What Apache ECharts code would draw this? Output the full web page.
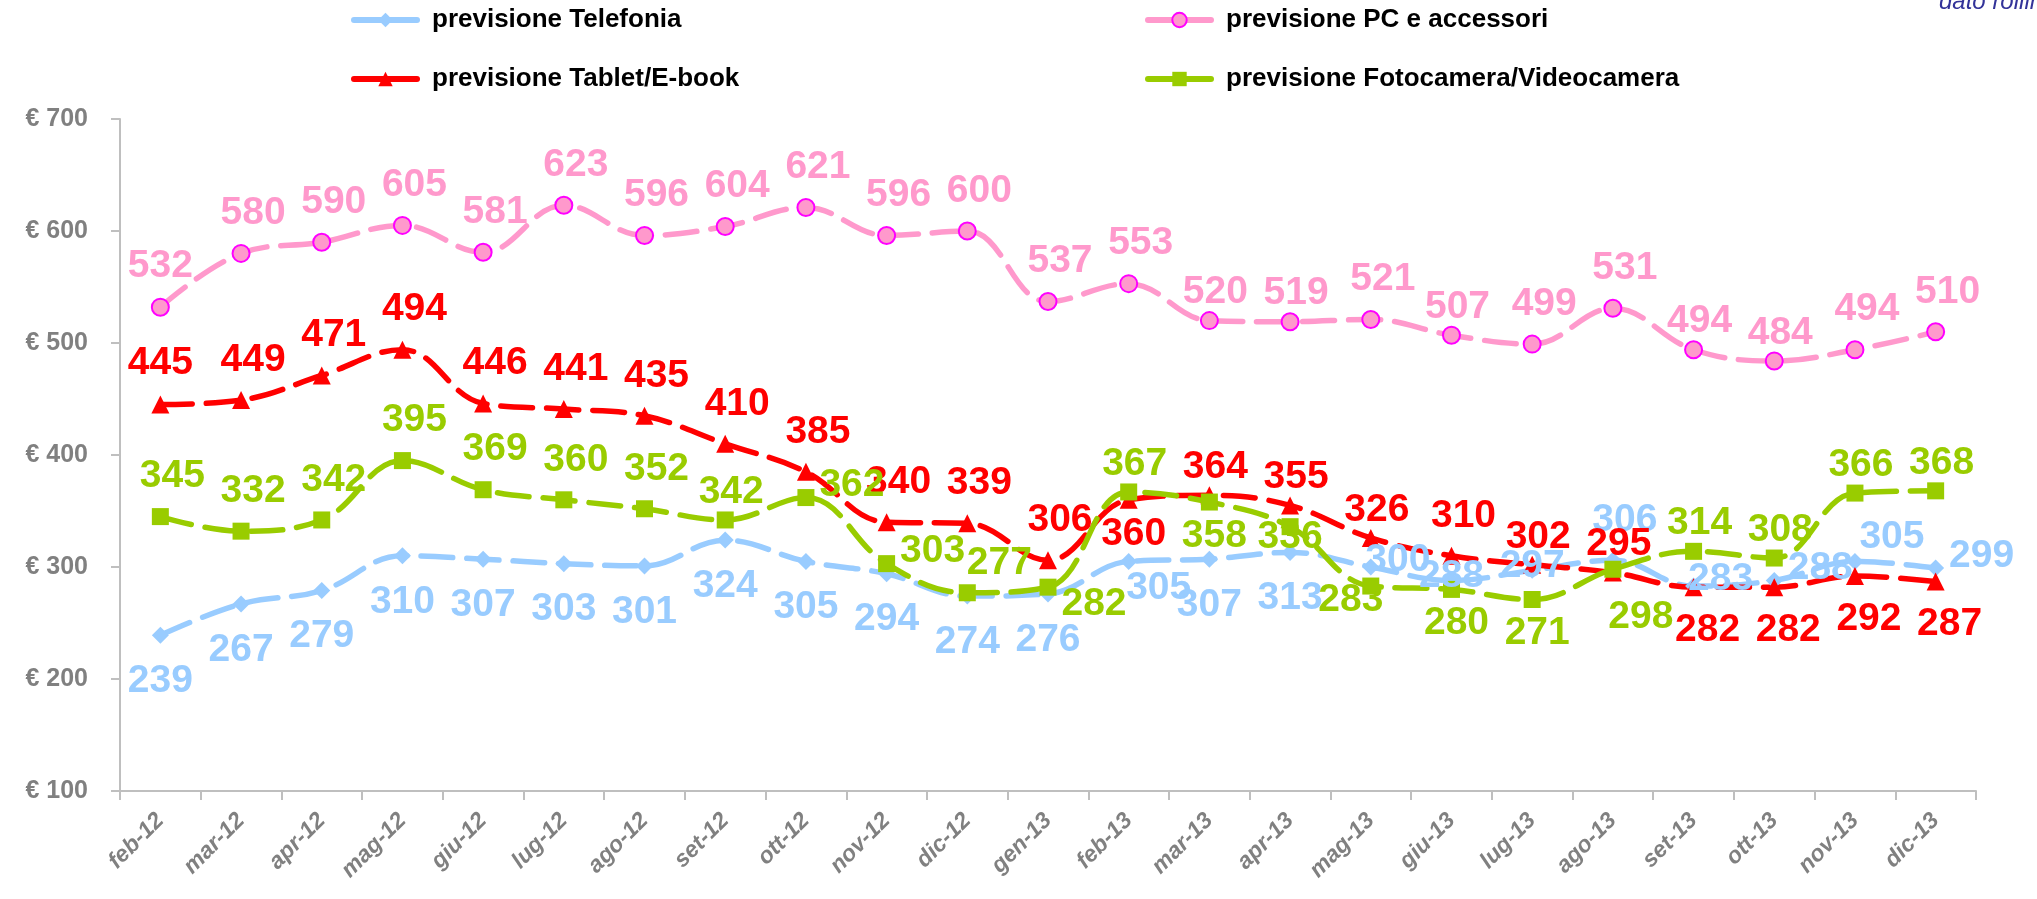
<!DOCTYPE html>
<html>
<head>
<meta charset="utf-8">
<title>previsioni</title>
<script src="https://cdn.jsdelivr.net/npm/echarts@6/dist/echarts.min.js"></script>
<style>
    html, body { margin: 0; padding: 0; background: #fff; }
    #chart { width: 2037px; height: 899px; }
</style>
</head>
<body>
<div id="chart"></div>
<script>
var months = ['feb-12', 'mar-12', 'apr-12', 'mag-12', 'giu-12', 'lug-12', 'ago-12', 'set-12',
    'ott-12', 'nov-12', 'dic-12', 'gen-13', 'feb-13', 'mar-13', 'apr-13', 'mag-13', 'giu-13',
    'lug-13', 'ago-13', 'set-13', 'ott-13', 'nov-13', 'dic-13'];

var telefonia = [239, 267, 279, 310, 307, 303, 301, 324, 305, 294, 274, 276, 305, 307, 313, 300, 288, 297, 306, 283, 288, 305, 299];
var pcAccessori = [532, 580, 590, 605, 581, 623, 596, 604, 621, 596, 600, 537, 553, 520, 519, 521, 507, 499, 531, 494, 484, 494, 510];
var tablet = [445, 449, 471, 494, 446, 441, 435, 410, 385, 340, 339, 306, 360, 364, 355, 326, 310, 302, 295, 282, 282, 292, 287];
var fotocamera = [345, 332, 342, 395, 369, 360, 352, 342, 362, 303, 277, 282, 367, 358, 336, 283, 280, 271, 298, 314, 308, 366, 368];

var yTicks = [100, 200, 300, 400, 500, 600, 700];

// dove sta l'etichetta rispetto al punto (spostamento del centro, px)
var placeStyles = {
    T: [12, -40],
    T0: [0, -41],
    TN: [6, -28],
    B: [0, 46],
    BS: [14, 43],
    BN: [5, 34],
    BR: [30, 27],
    BL: [-20, 14],
    BF: [28, 48],
    R: [46, -12],
    RD: [46, 17],
    RU: [32, -30],
    C: [0, -4],
    CR: [27, -7],
    CB: [0, 11],
    TR: [37, -24]
};

var telefoniaPlaces = ['B', 'B', 'B', 'B', 'B', 'B', 'B', 'B', 'B', 'B', 'B', 'B', 'BR', 'B', 'B', 'CR', 'C', 'C', 'T', 'CR', 'R', 'TR', 'R'];
var pcPlaces = ['T0', 'T', 'T', 'T', 'T', 'T', 'T', 'T', 'T', 'T', 'T', 'T', 'T', 'TN', 'TN', 'T', 'TN', 'T', 'T', 'TN', 'TN', 'T', 'T'];
var tabletPlaces = ['T0', 'T', 'T', 'T', 'T', 'T', 'T', 'T', 'T', 'T', 'T', 'T', 'BN', 'TN', 'TN', 'TN', 'T', 'TN', 'TN', 'BS', 'BS', 'BS', 'BS'];
var fotoPlaces = ['T', 'T', 'T', 'T', 'T', 'T', 'T', 'TN', 'R', 'R', 'RU', 'RD', 'TN', 'BN', 'CB', 'BL', 'BN', 'BN', 'BF', 'TN', 'TN', 'TN', 'TN'];

function buildData(values, places) {
    return values.map(function (v, i) {
        return {
            value: v,
            label: { position: 'inside', offset: placeStyles[places[i]] }
        };
    });
}

function makeSeries(name, values, places, color, symbol, symbolSize, borderColor) {
    return {
        name: name,
        type: 'line',
        data: buildData(values, places),
        smooth: 0.4,
        symbol: symbol,
        symbolSize: symbolSize,
        showAllSymbol: true,
        lineStyle: { color: color, width: 5.5, type: [32, 14], cap: 'round' },
        itemStyle: {
            color: color,
            borderColor: borderColor || color,
            borderWidth: borderColor ? 2 : 0
        },
        label: {
            show: true,
            color: color,
            fontFamily: 'Liberation Sans, Arial, sans-serif',
            fontWeight: 'bold',
            fontSize: 39
        },
        emphasis: { disabled: true },
        animation: false
    };
}

var chart = echarts.init(document.getElementById('chart'));

var legendText = {
    color: '#000',
    fontFamily: 'Liberation Sans, Arial, sans-serif',
    fontWeight: 'bold',
    fontSize: 26,
    lineHeight: 28,
    padding: [0, 0, 0, 10]
};

var option = {
    backgroundColor: '#fff',
    textStyle: { fontFamily: 'Liberation Sans, Arial, sans-serif' },
    legend: [
        {
            data: ['previsione Telefonia', 'previsione Tablet/E-book'],
            orient: 'vertical',
            left: 351,
            top: 6,
            padding: 0,
            itemGap: 31,
            itemWidth: 63,
            itemHeight: 18,
            lineStyle: { type: 'solid', width: 6 },
            textStyle: legendText,
            selectedMode: false
        },
        {
            data: ['previsione PC e accessori', 'previsione Fotocamera/Videocamera'],
            orient: 'vertical',
            left: 1145,
            top: 6,
            padding: 0,
            itemGap: 31,
            itemWidth: 63,
            itemHeight: 18,
            lineStyle: { type: 'solid', width: 6 },
            textStyle: legendText,
            selectedMode: false
        }
    ],
    graphic: [
        {
            type: 'text',
            left: 1939,
            top: -10,
            z: 10,
            style: {
                text: 'dato rolling',
                fill: '#333399',
                font: 'italic 24px Liberation Sans, Arial, sans-serif'
            }
        }
    ],
    grid: {
        left: 120,
        right: 61,
        top: 119,
        bottom: 108,
        containLabel: false,
        outerBoundsMode: 'none'
    },
    xAxis: {
        type: 'category',
        data: months,
        boundaryGap: true,
        axisLine: { lineStyle: { color: '#BFBFBF', width: 2 } },
        axisTick: { show: true, length: 9, interval: 0, lineStyle: { color: '#BFBFBF', width: 2 } },
        axisLabel: {
            interval: 0,
            rotate: 45,
            margin: 26,
            color: '#808080',
            fontStyle: 'italic',
            fontWeight: 'bold',
            fontSize: 23
        },
        splitLine: { show: false }
    },
    yAxis: {
        type: 'value',
        min: yTicks[0],
        max: yTicks[yTicks.length - 1],
        interval: yTicks[1] - yTicks[0],
        axisLine: { show: true, lineStyle: { color: '#BFBFBF', width: 2 } },
        axisTick: { show: true, length: 9, lineStyle: { color: '#BFBFBF', width: 2 } },
        axisLabel: {
            margin: 32,
            color: '#808080',
            fontWeight: 'bold',
            fontSize: 25,
            formatter: '€ {value}'
        },
        splitLine: { show: false }
    },
    series: [
        makeSeries('previsione Telefonia', telefonia, telefoniaPlaces, '#99CCFF', 'diamond', 17),
        makeSeries('previsione PC e accessori', pcAccessori, pcPlaces, '#FF99CC', 'circle', 17, '#FF00FF'),
        makeSeries('previsione Tablet/E-book', tablet, tabletPlaces, '#FF0000', 'triangle', 18),
        makeSeries('previsione Fotocamera/Videocamera', fotocamera, fotoPlaces, '#99CC00', 'rect', 17)
    ]
};

chart.setOption(option);
</script>
</body>
</html>
